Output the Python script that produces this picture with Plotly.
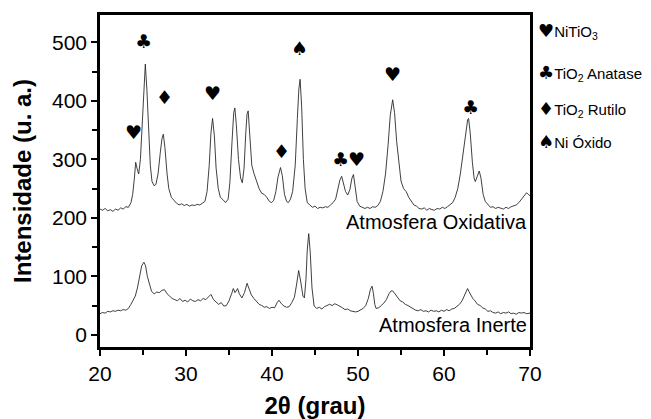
import plotly.graph_objects as go

# --- Data (2theta in degrees, intensity in a.u.) ---
ox_x = [20.0, 20.3, 20.6, 20.9, 21.2, 21.5, 21.8, 22.1, 22.4, 22.7, 23.0, 23.3, 23.6, 23.8, 24.0, 24.15,
        24.3, 24.5, 24.7, 24.9, 25.1, 25.27, 25.45, 25.65, 25.85, 26.05, 26.3, 26.5, 26.75, 27.0, 27.2,
        27.36, 27.55, 27.8, 28.0, 28.3, 28.6, 28.9, 29.2, 29.5, 29.8, 30.1, 30.4, 30.7, 31.0, 31.3, 31.6,
        31.9, 32.2, 32.45, 32.7, 32.9, 33.09, 33.3, 33.5, 33.75, 34.0, 34.3, 34.6, 34.9, 35.1, 35.35, 35.55,
        35.68, 35.85, 36.1, 36.35, 36.55, 36.75, 36.95, 37.1, 37.23, 37.4, 37.65, 37.9, 38.2, 38.5, 38.8,
        39.1, 39.4, 39.7, 39.95, 40.2, 40.45, 40.7, 40.99, 41.2, 41.45, 41.7, 41.9, 42.15, 42.4, 42.7, 42.95,
        43.12, 43.27, 43.45, 43.65, 43.85, 44.1, 44.4, 44.7, 45.0, 45.3, 45.6, 45.9, 46.2, 46.5, 46.8, 47.1,
        47.4, 47.7, 47.9, 48.1, 48.3, 48.55, 48.8, 49.05, 49.3, 49.47, 49.65, 49.9, 50.2, 50.5, 50.8, 51.1,
        51.4, 51.7, 52.0, 52.3, 52.6, 52.9, 53.2, 53.5, 53.75, 54.03, 54.25, 54.5, 54.75, 55.0, 55.3, 55.6,
        55.9, 56.2, 56.5, 56.8, 57.1, 57.4, 57.7, 58.0, 58.3, 58.6, 58.9, 59.2, 59.5, 59.8, 60.1, 60.4, 60.7,
        61.0, 61.3, 61.6, 61.9, 62.2, 62.5, 62.75, 62.86, 63.05, 63.3, 63.5, 63.64, 63.85, 64.1, 64.3, 64.55,
        64.8, 65.1, 65.4, 65.7, 66.0, 66.3, 66.6, 66.9, 67.2, 67.5, 67.8, 68.1, 68.4, 68.7, 69.0, 69.3, 69.6,
        69.8, 70.0]
ox_y = [215, 213, 216, 212, 214, 211, 215, 213, 217, 215, 219, 218, 226, 240, 268, 295,
        285, 275, 300, 360, 430, 463, 420, 340, 290, 262, 255, 257, 275, 310, 335,
        343, 320, 275, 250, 235, 229, 225, 222, 224, 221, 223, 220, 222, 221, 223, 222,
        225, 228, 245, 290, 345, 370, 340, 285, 250, 235, 231, 226, 232, 260, 330, 380,
        388, 360, 300, 268, 260, 285, 345, 378, 383, 345, 290, 276, 262, 250, 242,
        240, 235, 228, 226, 230, 245, 270, 286, 272, 240, 228, 226, 232, 245, 290, 370,
        420, 437, 390, 300, 250, 226, 222, 218, 220, 216, 218, 217, 219, 218, 222, 226,
        232, 250, 265, 271, 260, 245, 239, 248, 268, 274, 255, 228, 220, 218, 216, 218,
        216, 219, 218, 221, 228, 245, 275, 325, 375, 402, 380, 330, 290, 263, 250, 245,
        235, 228, 222, 220, 216, 215, 217, 213, 216, 214, 213, 216, 215, 218, 216, 219, 222,
        226, 235, 250, 275, 310, 345, 368, 370, 345, 295, 268, 262, 272, 280, 268, 240,
        228, 222, 218, 219, 216, 218, 217, 215, 218, 216, 219, 220, 222, 226, 232, 238, 243,
        240, 238]

in_x = [20.0, 20.3, 20.6, 20.9, 21.2, 21.5, 21.8, 22.1, 22.4, 22.7, 23.0, 23.3, 23.6, 23.9, 24.1, 24.35,
        24.6, 24.85, 25.1, 25.3, 25.5, 25.75, 26.0, 26.3, 26.6, 26.9, 27.2, 27.5, 27.8, 28.1, 28.4, 28.7,
        29.0, 29.3, 29.6, 29.9, 30.2, 30.5, 30.8, 31.1, 31.4, 31.7, 32.0, 32.3, 32.6, 32.9, 33.2, 33.5, 33.8,
        34.1, 34.4, 34.7, 35.0, 35.3, 35.5, 35.7, 36.0, 36.2, 36.5, 36.8, 37.1, 37.35, 37.6, 37.9, 38.2,
        38.5, 38.8, 39.1, 39.4, 39.7, 40.0, 40.3, 40.6, 40.8, 41.1, 41.4, 41.7, 42.0, 42.3, 42.6, 42.85,
        43.1, 43.35, 43.6, 43.77, 43.95, 44.1, 44.27, 44.45, 44.65, 44.9, 45.2, 45.5, 45.8, 46.1, 46.4,
        46.7, 47.0, 47.3, 47.6, 47.9, 48.2, 48.5, 48.8, 49.1, 49.4, 49.7, 50.0, 50.3, 50.6, 50.9, 51.2,
        51.45, 51.64, 51.8, 51.95, 52.1, 52.4, 52.7, 53.0, 53.3, 53.6, 53.85, 54.03, 54.3, 54.6, 54.9,
        55.2, 55.5, 55.8, 56.1, 56.4, 56.7, 57.0, 57.3, 57.6, 57.9, 58.2, 58.5, 58.8, 59.1, 59.4, 59.7,
        60.0, 60.3, 60.6, 60.9, 61.2, 61.5, 61.8, 62.1, 62.4, 62.6, 62.74, 62.9, 63.1, 63.35, 63.6, 63.9,
        64.2, 64.5, 64.8, 65.1, 65.4, 65.7, 66.0, 66.3, 66.6, 66.9, 67.2, 67.5, 67.8, 68.1, 68.4, 68.7,
        69.0, 69.3, 69.6, 70.0]
in_y = [36, 38, 37, 40, 39, 41, 40, 42, 41, 43, 42, 45, 52, 60, 66, 80,
        100, 118, 124, 118, 100, 85, 74, 70, 73, 72, 76, 77, 70, 66, 62, 60,
        58, 62, 57, 59, 56, 61, 58, 57, 60, 58, 62, 60, 64, 69, 60, 56, 52,
        55, 49, 50, 58, 70, 79, 72, 79, 70, 63, 72, 88, 78, 68, 62, 56,
        52, 50, 47, 48, 45, 47, 46, 55, 59, 53, 49, 47, 48, 55, 64, 85,
        110, 90, 66, 63, 95, 145, 173, 140, 80, 49, 45, 47, 44, 48, 50,
        52, 50, 53, 51, 49, 46, 43, 44, 41, 40, 39, 40, 42, 45, 50, 62,
        78, 83, 70, 52, 45, 46, 50, 54, 60, 70, 75, 75, 70, 64, 58,
        56, 52, 50, 47, 45, 42, 41, 43, 40, 41, 39, 42, 40, 41, 39, 42,
        40, 43, 41, 44, 45, 48, 52, 58, 68, 77, 79, 74, 68, 62, 58, 52,
        50, 46, 44, 40, 41, 38, 37, 39, 36, 38, 37, 39, 36, 37, 35, 38,
        37, 38, 36, 37]

# Phase markers above peaks
marker_x = [23.9, 25.0, 27.5, 33.05, 41.07, 43.2, 47.95, 49.78, 54.03, 63.05]
marker_y = [347, 502, 406, 413, 314, 490, 300, 300, 446, 390]
marker_sym = ["\u2665", "\u2663", "\u2666", "\u2665", "\u2666", "\u2660", "\u2663", "\u2665", "\u2665", "\u2663"]

legend_sym = ["\u2665", "\u2663", "\u2666", "\u2660"]
legend_txt = ["NiTiO<sub>3</sub>", "TiO<sub>2</sub> Anatase", "TiO<sub>2</sub> Rutilo", "Ni \u00d3xido"]
legend_y = [520, 448, 386, 331]

x_ticks = [20, 30, 40, 50, 60, 70]
y_ticks = [0, 100, 200, 300, 400, 500]

FONT = "Liberation Sans, Arial, sans-serif"

fig = go.Figure()
fig.add_trace(go.Scatter(x=ox_x, y=ox_y, mode="lines", line=dict(color="#2a2a2a", width=0.9),
                         showlegend=False, hoverinfo="skip"))
fig.add_trace(go.Scatter(x=in_x, y=in_y, mode="lines", line=dict(color="#2a2a2a", width=0.9),
                         showlegend=False, hoverinfo="skip"))

annotations = []
for mx, my, ms in zip(marker_x, marker_y, marker_sym):
    annotations.append(dict(x=mx, y=my, xref="x", yref="y", text=ms, showarrow=False,
                            font=dict(family="DejaVu Sans", size=19, color="black")))
for ls, lt, ly in zip(legend_sym, legend_txt, legend_y):
    annotations.append(dict(x=1.014, y=ly, xref="paper", yref="y", xanchor="left",
                            text="<span style='font-family:DejaVu Sans;font-size:18px'>" + ls + "</span>" + lt,
                            showarrow=False, font=dict(family=FONT, size=15, color="black")))
annotations.append(dict(x=69.85, y=193, xref="x", yref="y", xanchor="right", text="Atmosfera Oxidativa",
                        showarrow=False, font=dict(family=FONT, size=20, color="black")))
annotations.append(dict(x=69.85, y=16, xref="x", yref="y", xanchor="right", text="Atmosfera Inerte",
                        showarrow=False, font=dict(family=FONT, size=20, color="black")))

# The page body keeps its default 8px margin, so the figure is sized to fill the rest of the window.
fig.update_layout(
    width=643, height=411,
    margin=dict(l=92, r=121, t=7, b=72),
    paper_bgcolor="white", plot_bgcolor="white",
    font=dict(family=FONT, size=21, color="black"),
    annotations=annotations,
    xaxis=dict(range=[20, 70], tickvals=x_ticks, ticks="outside", ticklen=6, tickwidth=1.5,
               tickcolor="black", showline=True, linewidth=2.5, linecolor="black", mirror=True,
               showgrid=False, zeroline=False, automargin=False,
               minor=dict(dtick=5, tick0=0, ticks="outside", ticklen=5, tickwidth=1.5, tickcolor="black"),
               title=dict(text="<b>2\u03b8 (grau)</b>", font=dict(size=24), standoff=14)),
    yaxis=dict(range=[-21, 547], tickvals=y_ticks, ticks="outside", ticklen=6, tickwidth=1.5,
               tickcolor="black", showline=True, linewidth=2.5, linecolor="black", mirror=True,
               showgrid=False, zeroline=False, automargin=False,
               minor=dict(dtick=50, tick0=0, ticks="outside", ticklen=5, tickwidth=1.5, tickcolor="black"),
               title=dict(text="<b>Intensidade (u. a.)</b>", font=dict(size=24), standoff=14)),
)

fig.write_html("out.html")
